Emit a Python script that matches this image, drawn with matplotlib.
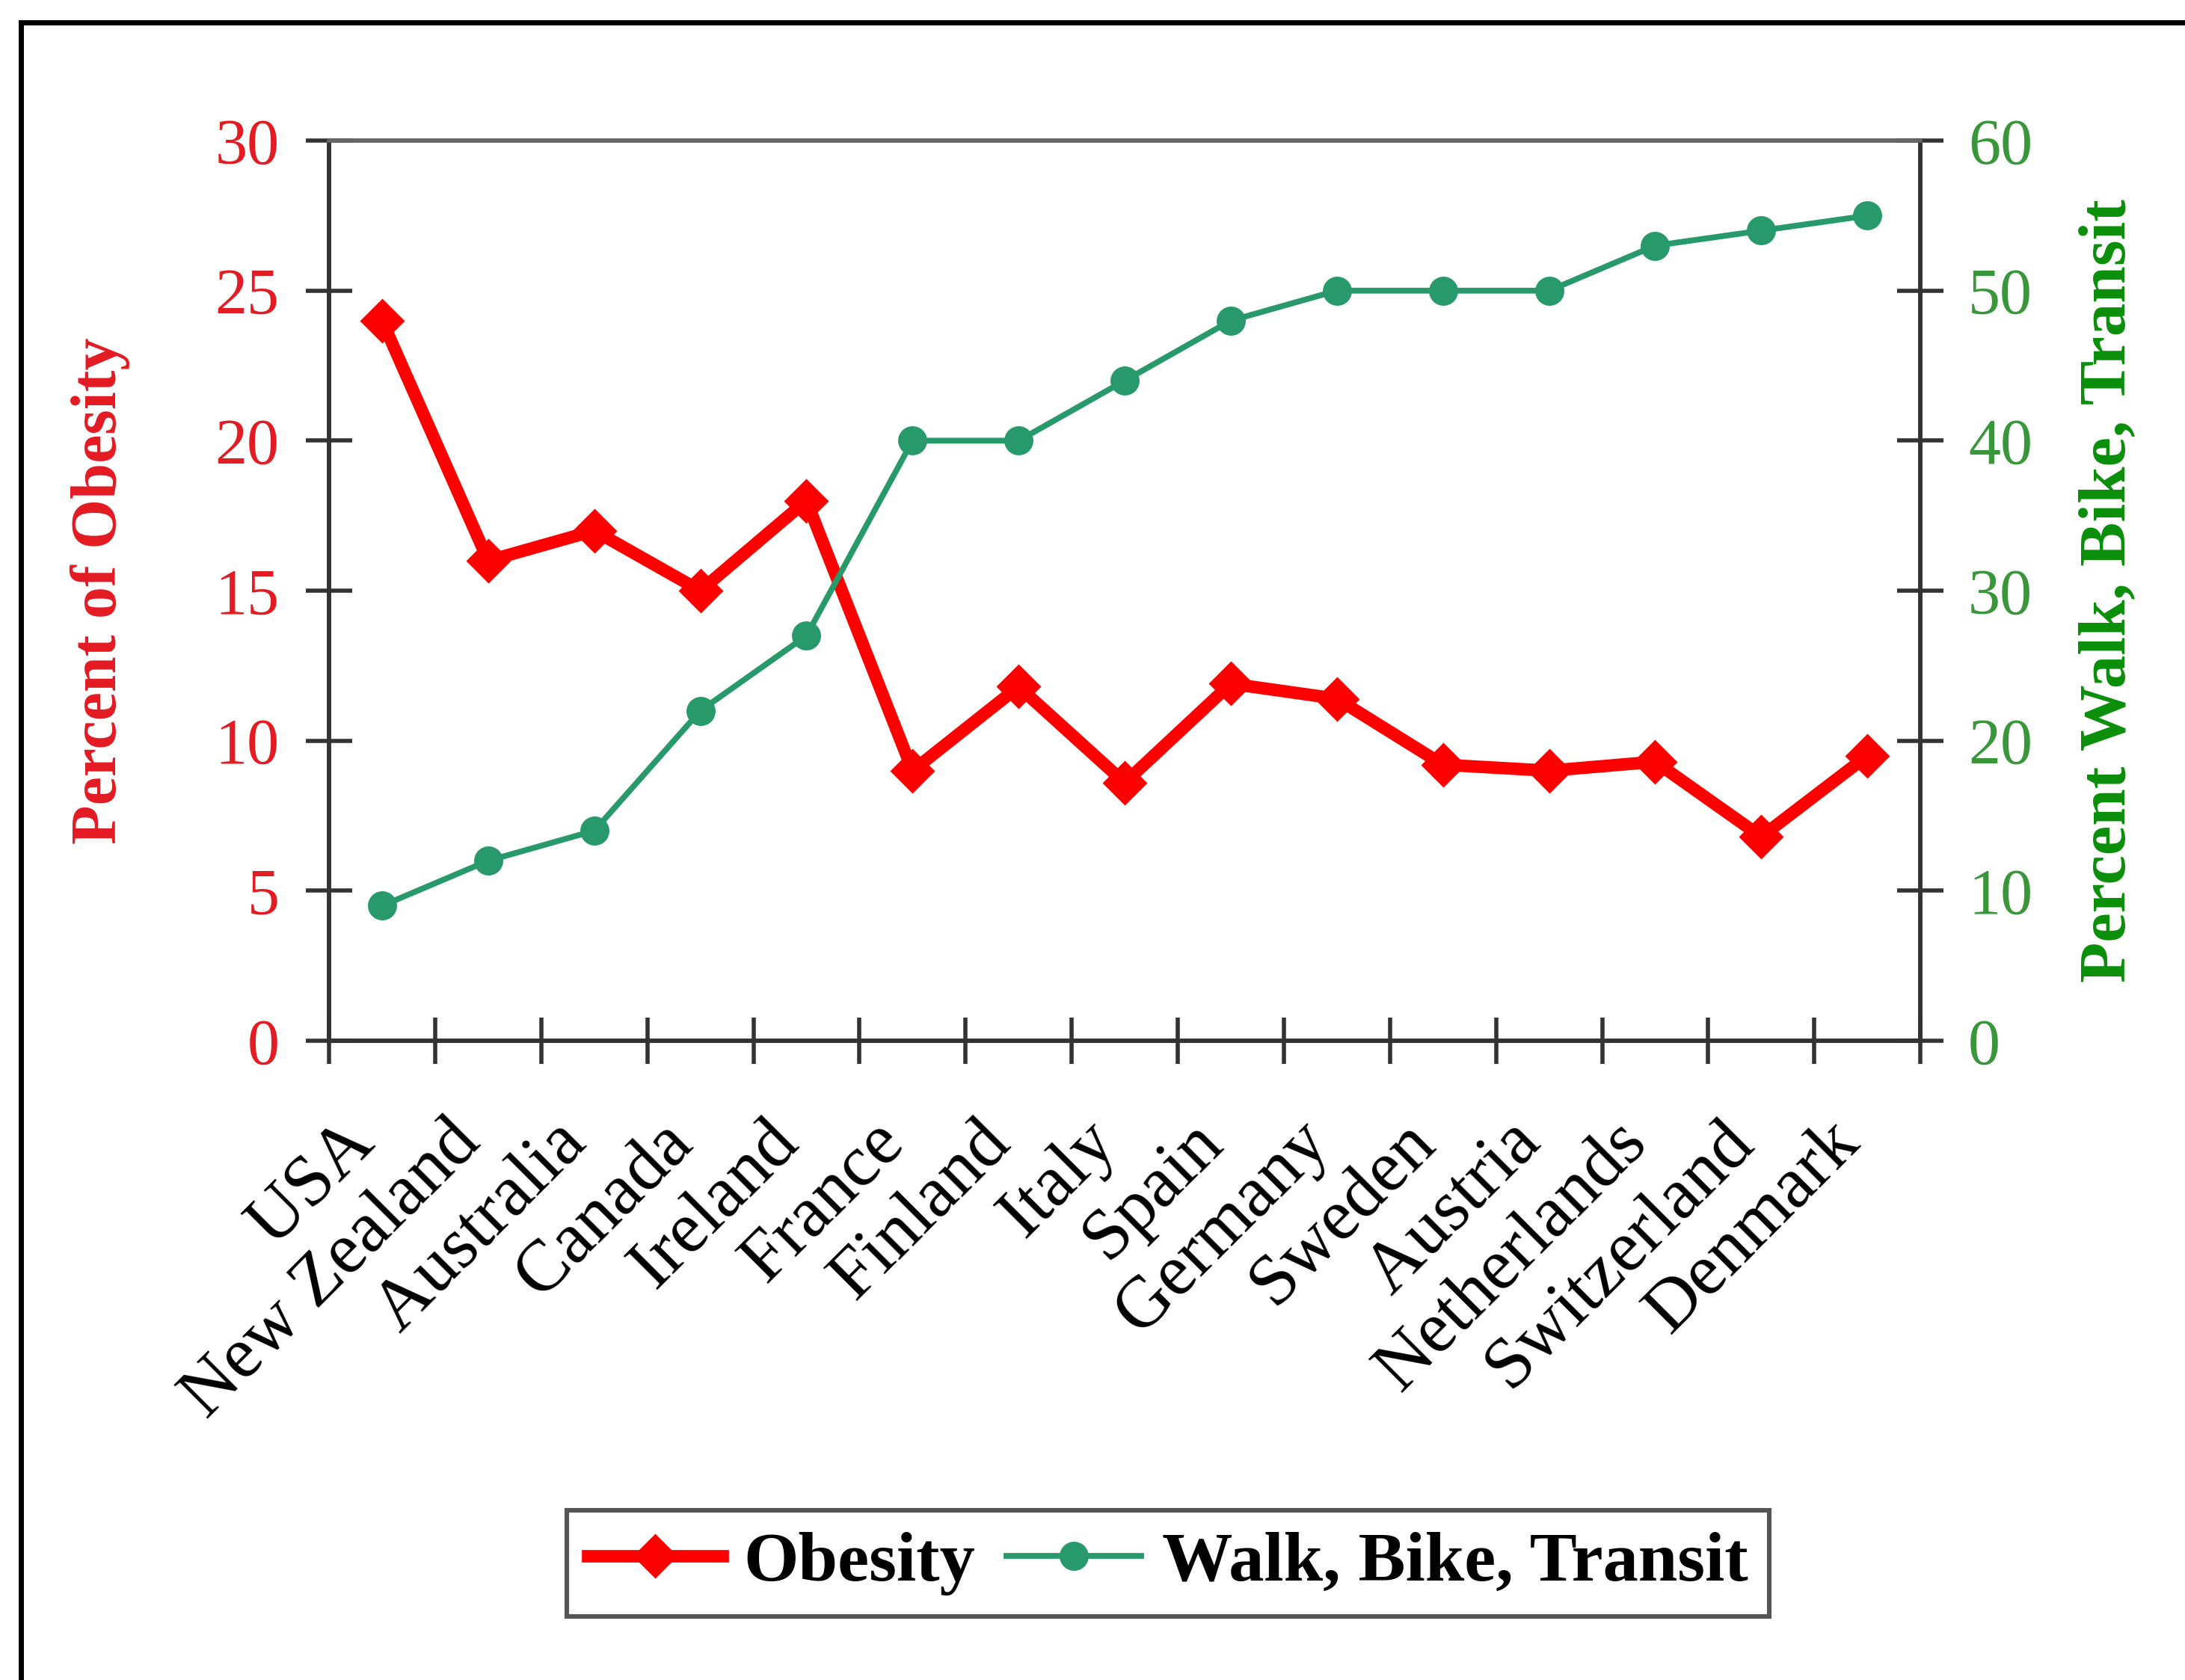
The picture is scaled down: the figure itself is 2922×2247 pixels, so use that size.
import numpy as np
import matplotlib
matplotlib.use("Agg")
import matplotlib.pyplot as plt
import matplotlib.transforms as mtransforms
from matplotlib.lines import Line2D

# Data
countries = ["USA", "New Zealand", "Australia", "Canada", "Ireland", "France",
             "Finland", "Italy", "Spain", "Germany", "Sweden", "Austria",
             "Netherlands", "Switzerland", "Denmark"]
obesity = [24.0, 16.0, 17.0, 15.0, 18.0, 9.0, 11.8, 8.6, 11.9, 11.4,
           9.2, 9.0, 9.3, 6.8, 9.5]
walk_bike_transit = [9, 12, 14, 22, 27, 40, 40, 44, 48, 50, 50, 50, 53, 54, 55]
left_ticks = [0, 5, 10, 15, 20, 25, 30]
right_ticks = [0, 10, 20, 30, 40, 50, 60]

plt.rcParams['font.family'] = ['Liberation Serif', 'DejaVu Serif']

RED = '#ff0000'
RED_TEXT = '#e31b23'
TEAL = '#27996b'
GREEN_TEXT = '#3a963a'
GREEN_LABEL = '#0a8f0a'
SPINE = '#333333'

fig = plt.figure(figsize=(14.61, 11.235), dpi=200)
fig.patch.set_facecolor('white')
ax = fig.add_axes([0.1506, 0.3805, 0.7283, 0.5358])
ax2 = ax.twinx()

x = np.arange(len(countries))
l1, = ax.plot(x, obesity, color=RED, lw=6, marker='D', ms=14.5,
              mfc=RED, mec=RED, mew=1, label='Obesity', zorder=3)
l2, = ax2.plot(x, walk_bike_transit, color=TEAL, lw=2.8, marker='o', ms=13,
               mfc=TEAL, mec=TEAL, mew=1, label='Walk, Bike, Transit', zorder=3)

ax.set_xlim(-0.5, len(countries) - 0.5)
ax.set_ylim(0, 30)
ax2.set_ylim(0, 60)
ax.set_yticks(left_ticks)
ax2.set_yticks(right_ticks)

# Category labels centred in each bin, tick marks on the bin edges
ax.set_xticks(x)
ax.set_xticklabels(countries, rotation=45, ha='right', va='baseline',
                   rotation_mode='anchor', fontsize=35, color='black')
ax.set_xticks(np.arange(-0.5, len(countries), 1.0), minor=True)
ax.tick_params(axis='x', which='major', length=0, pad=50)
ax.tick_params(axis='x', which='minor', direction='inout', length=22,
               width=2, color=SPINE)
shift = mtransforms.ScaledTranslation(-3 / 72, 0, fig.dpi_scale_trans)
for lab in ax.get_xticklabels():
    lab.set_transform(lab.get_transform() + shift)

ax.tick_params(axis='y', direction='inout', length=22, width=2, color=SPINE,
               pad=13, labelsize=31, labelcolor=RED_TEXT)
ax2.tick_params(axis='y', direction='inout', length=22, width=2, color=SPINE,
                pad=12, labelsize=31, labelcolor=GREEN_TEXT)

for a in (ax, ax2):
    for name, sp in a.spines.items():
        sp.set_color(SPINE)
        sp.set_linewidth(2)
    a.spines['top'].set_color('#666666')

fig.text(0.0459, 0.6484, 'Percent of Obesity', rotation=90, ha='center',
         va='center', fontsize=31, fontweight='bold', color=RED_TEXT)
fig.text(0.965, 0.6484, 'Percent Walk, Bike, Transit', rotation=90,
         ha='center', va='center', fontsize=32, fontweight='bold',
         color=GREEN_LABEL)

leg = fig.legend([l1, l2], ['Obesity', 'Walk, Bike, Transit'], loc='center',
                 bbox_to_anchor=(0.5346, 0.0694),
                 bbox_transform=fig.transFigure, ncol=2,
                 prop={'weight': 'bold', 'size': 34}, handlelength=1.9,
                 handletextpad=0.3, columnspacing=0.45, borderpad=0.3,
                 frameon=True, fancybox=False, edgecolor='#555555',
                 framealpha=1)
leg.get_frame().set_linewidth(2.2)

# Frame lines along the top and left edges of the figure
bx = 28 / 2922
by = 1 - 30 / 2247
fig.add_artist(Line2D([bx, bx], [0, by], transform=fig.transFigure,
                      color='black', lw=2.5))
fig.add_artist(Line2D([bx, 1], [by, by], transform=fig.transFigure,
                      color='black', lw=2.5))

fig.savefig('out.png', dpi=200, facecolor='white')
